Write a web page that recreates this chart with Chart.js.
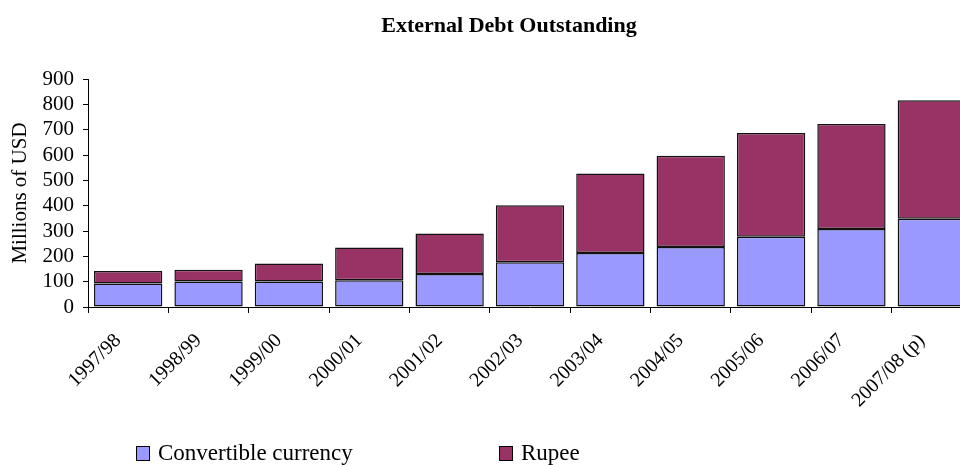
<!DOCTYPE html>
<html>
<head>
<meta charset="utf-8">
<script src="https://cdn.jsdelivr.net/npm/chart.js@4/dist/chart.umd.min.js"></script>
<style>
  html, body { margin: 0; padding: 0; background: #fff; overflow: hidden; width: 960px; height: 465px; }
  #wrap { position: relative; width: 1018px; height: 465px; }
  .title { position: absolute; left: 0; width: 1018px; top: 12px; text-align: center; font-family: "Liberation Serif", "Times New Roman", serif; font-weight: bold; font-size: 22px; color: #000; }
  .legend { position: absolute; top: 440px; font-family: "Liberation Serif", "Times New Roman", serif; font-size: 23px; color: #000; display: flex; align-items: center; white-space: nowrap; }
  .legend span.box { display: inline-block; width: 12px; height: 13px; border: 1px solid #000; margin-right: 8px; }
</style>
</head>
<body>
<div id="wrap">
  <canvas id="chart" width="1018" height="465"></canvas>
  <div class="title">External Debt Outstanding</div>
  <div class="legend" style="left:136px;"><span class="box" style="background:#9999FF"></span>Convertible currency</div>
  <div class="legend" style="left:499px;"><span class="box" style="background:#993366"></span>Rupee</div>
</div>
<script>
// Fiscal years shown on the category axis
const years = ["1997/98", "1998/99", "1999/00", "2000/01", "2001/02", "2002/03",
               "2003/04", "2004/05", "2005/06", "2006/07", "2007/08 (p)"];

// Outstanding external debt by currency, millions of USD
const convertibleCurrency = [93, 101, 101, 106, 130, 177, 213, 237, 277, 308, 348];
const rupee = [49, 46, 71, 129, 160, 225, 314, 360, 410, 414, 468];

const serif = "'Liberation Serif', 'Times New Roman', serif";

new Chart(document.getElementById("chart"), {
  type: "bar",
  data: {
    labels: years,
    datasets: [
      {
        label: "Convertible currency",
        data: convertibleCurrency,
        backgroundColor: "#9999FF",
        borderColor: "#111",
        borderWidth: 1.5,
        borderSkipped: false
      },
      {
        label: "Rupee",
        data: rupee,
        backgroundColor: "#993366",
        borderColor: "#111",
        borderWidth: 1.5,
        borderSkipped: false
      }
    ]
  },
  options: {
    responsive: false,
    animation: false,
    layout: { padding: { left: 0, right: 46, top: 79, bottom: 0 } },
    datasets: { bar: { categoryPercentage: 1.0, barPercentage: 0.85 } },
    plugins: {
      legend: { display: false },
      tooltip: { enabled: false },
      title: { display: false }
    },
    scales: {
      x: {
        stacked: true,
        border: { color: "#000", width: 1 },
        grid: { offset: true, drawOnChartArea: false, color: "#000", tickLength: 6 },
        ticks: {
          color: "#000",
          font: { family: serif, size: 20 },
          minRotation: 45,
          maxRotation: 45,
          autoSkip: false,
          padding: 16,
          labelOffset: -10
        },
        afterFit: (scale) => { scale.height = 158; }
      },
      y: {
        stacked: true,
        min: 0,
        max: 900,
        border: { color: "#000", width: 1 },
        grid: { drawOnChartArea: false, color: "#000", tickLength: 5 },
        ticks: {
          stepSize: 100,
          autoSkip: false,
          color: "#000",
          font: { family: serif, size: 21 },
          padding: 9
        },
        title: {
          display: true,
          text: "Millions of USD",
          color: "#000",
          font: { family: serif, size: 21 },
          padding: { top: 8, bottom: 0 }
        },
        afterFit: (scale) => { scale.width = 88; }
      }
    }
  }
});
</script>
</body>
</html>
